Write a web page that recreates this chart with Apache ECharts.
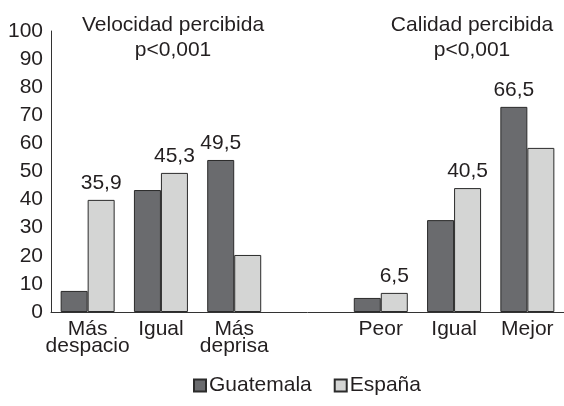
<!DOCTYPE html>
<html>
<head>
<meta charset="utf-8">
<script src="https://cdn.jsdelivr.net/npm/echarts@6/dist/echarts.min.js"></script>
<style>
html,body{margin:0;padding:0;background:#fff;}
#chart{width:564px;height:406px;}
</style>
</head>
<body>
<div id="chart"></div>
<script>
// categorías (la del medio vacía separa los dos bloques)
var categories = ['Más\ndespacio', 'Igual', 'Más\ndeprisa', '', 'Peor', 'Igual', 'Mejor'];
// alturas de barra
var guatemala = [7.5, 43.4, 54.1, '-', 5.0, 32.7, 73.0];
var espana = [39.9, 49.5, 20.3, '-', 6.8, 44.1, 58.4];
// etiquetas impresas sobre algunas barras
var guatemalaLabels = ['', '', '49,5', '', '', '', '66,5'];
var espanaLabels = ['35,9', '45,3', '', '', '6,5', '40,5', ''];
var yTicks = [0, 100, 10];

var font = 'Liberation Sans, Arial, sans-serif';
var txt = '#231f20';
var fs = 21;

var chart = echarts.init(document.getElementById('chart'));
chart.setOption({
	animation: false,
	textStyle: { fontFamily: font },
	title: [{
		text: 'Velocidad percibida\np<0,001',
		left: 168, top: 8, textAlign: 'center',
		textStyle: { fontSize: fs, fontWeight: 'normal', color: txt, fontFamily: font, lineHeight: 25 }
	}, {
		text: 'Calidad percibida\np<0,001',
		left: 467, top: 8, textAlign: 'center',
		textStyle: { fontSize: fs, fontWeight: 'normal', color: txt, fontFamily: font, lineHeight: 25 }
	}],
	legend: {
		top: 370,
		left: 188,
		itemWidth: 12,
		itemHeight: 12,
		itemGap: 22,
		icon: 'rect',
		textStyle: { fontSize: fs, color: txt, fontFamily: font, padding: [0, 0, 0, -2] },
		data: ['Guatemala', 'España']
	},
	grid: { left: 51, width: 518, top: 31, bottom: 94, containLabel: false },
	xAxis: {
		type: 'category',
		data: categories,
		axisLine: { lineStyle: { color: '#333', width: 1 } },
		axisTick: { show: false },
		axisLabel: { color: txt, fontSize: fs, lineHeight: 17, margin: 9, interval: 0, fontFamily: font }
	},
	yAxis: {
		type: 'value',
		min: yTicks[0], max: yTicks[1], interval: yTicks[2],
		splitLine: { show: false },
		axisLine: { show: true, lineStyle: { color: '#333', width: 1 } },
		axisTick: { show: false },
		axisLabel: { color: txt, fontSize: fs, margin: 8, fontFamily: font }
	},
	series: [{
		name: 'Guatemala',
		type: 'bar',
		data: guatemala,
		barWidth: 27,
		barGap: '0%',
		itemStyle: { color: '#6a6b6e', borderColor: '#2b2b2b', borderWidth: 1 },
		label: {
			show: true, position: 'top', distance: 6,
			color: txt, fontSize: fs, fontFamily: font,
			formatter: function (p) { return guatemalaLabels[p.dataIndex]; }
		}
	}, {
		name: 'España',
		type: 'bar',
		data: espana,
		barWidth: 27,
		barGap: '0%',
		itemStyle: { color: '#d4d5d4', borderColor: '#2b2b2b', borderWidth: 1 },
		label: {
			show: true, position: 'top', distance: 6,
			color: txt, fontSize: fs, fontFamily: font,
			formatter: function (p) { return espanaLabels[p.dataIndex]; }
		}
	}]
});
</script>
</body>
</html>
